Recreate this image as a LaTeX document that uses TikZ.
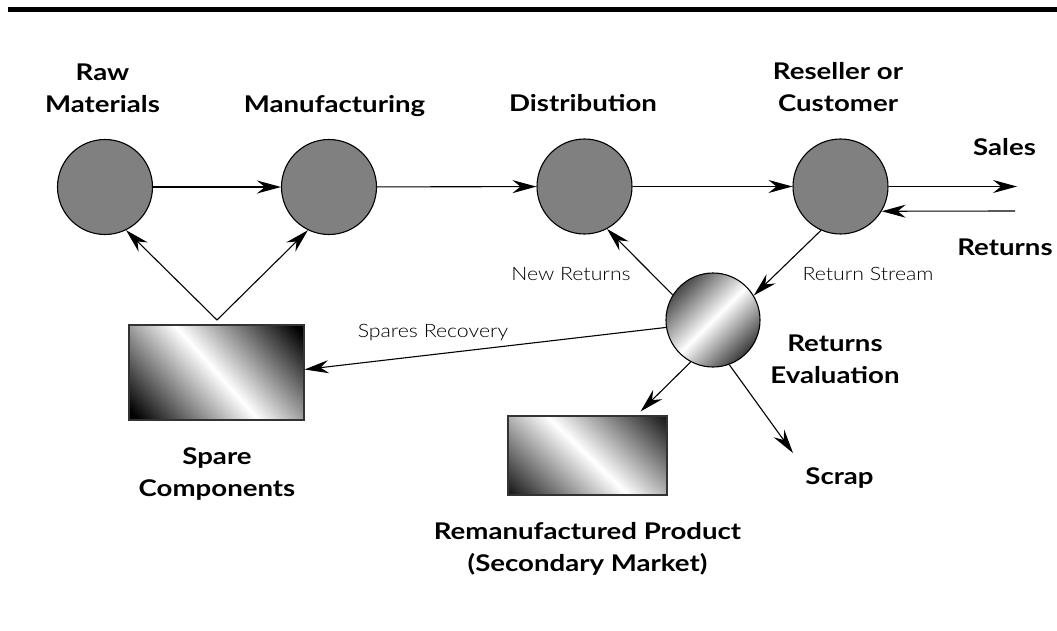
\documentclass[tikz,border=0pt]{standalone}
\usepackage{fontspec}
\setmainfont{Lato}[FakeStretch=1.2]
\IfFontExistsTF{Lato Light}{\newfontfamily\lightfont{Lato Light}[FakeStretch=1.15]}{\newfontfamily\lightfont{Lato}[FakeStretch=1.15]}
\usetikzlibrary{arrows.meta,calc}
\pgfdeclareverticalshading{metalboxbig}{400bp}{color(0bp)=(black); color(110bp)=(black); color(200bp)=(white); color(290bp)=(black); color(400bp)=(black)}
\pgfdeclareverticalshading{metalballbig}{400bp}{color(0bp)=(black!78); color(153bp)=(black!78); color(200bp)=(white); color(247bp)=(black!72); color(400bp)=(black!72)}
\begin{document}
\begin{tikzpicture}[x=1pt,y=-1pt,
  stage/.style={circle, draw=black, line width=1.1pt, fill=black!50, minimum size=95pt, inner sep=0pt},
  evalball/.style={circle, draw=black, line width=1.1pt, minimum size=94pt, inner sep=0pt,
    path picture={\node[rotate=45, inner sep=0pt] at (path picture bounding box.center) {\pgfuseshading{metalballbig}};}},
  store/.style={rectangle, draw=black!80, line width=1.2pt, inner sep=0pt,
    path picture={\node[rotate=#1, inner sep=0pt] at (path picture bounding box.center) {\pgfuseshading{metalboxbig}};}},
  lbl/.style={font=\bfseries\fontsize{23}{32}\selectfont, align=center, inner sep=0pt, anchor=base},
  thinlbl/.style={font=\lightfont\fontsize{18.5}{20}\selectfont, text=black, inner sep=0pt, anchor=base},
  flow/.style={-{Stealth[length=24pt,width=13pt,inset=8pt]}, line width=1.1pt},
]
\useasboundingbox (0,0) rectangle (1057,631);
\draw[line width=5pt] (8,9.3) -- (1057,9.3);

\node[stage] (raw) at (105,187) {};
\node[stage] (manu) at (329,187) {};
\node[stage] (dist) at (584.5,186.5) {};
\node[stage] (resel) at (840.5,186.5) {};
\node[evalball] (eval) at (713,320) {};
\node[store=-48.5, minimum width=175pt, minimum height=95pt] (spare) at (216.5,372.5) {};
\node[store=-44, minimum width=159pt, minimum height=79pt] (reman) at (587.5,455.5) {};

\coordinate (salesend) at (1017,186.5);
\coordinate (retin) at (1015,211);
\coordinate (apex) at (217,320);
\coordinate (scraptip) at (793,453);

\node[lbl] (rawl) at (102.5,112.6) {Raw\\Materials};
\node[lbl] (manul) at (334.5,113) {Manufacturing};
\node[lbl] (distl) at (583,112) {Distribution};
\node[lbl] (resl) at (838,111.7) {Reseller or\\Customer};
\node[lbl] (salesl) at (1004.5,156) {Sales};
\node[lbl] (retl) at (1005,255) {Returns};
\node[lbl] (evall) at (835,383) {Returns\\Evaluation};
\node[lbl] (sparel) at (217,496) {Spare\\Components};
\node[lbl] (scrapl) at (839.5,484) {Scrap};
\node[lbl] (remanl) at (587.5,571.7) {Remanufactured Product\\(Secondary Market)};

\node[thinlbl] (newret) at (571,280) {New Returns};
\node[thinlbl] (retstream) at (868,280) {Return Stream};
\node[thinlbl] (sparerec) at (433,337) {Spares Recovery};

\draw[flow] (raw) -- (manu);
\draw[flow] (manu) -- (dist);
\draw[flow] (dist) -- (resel);
\draw[flow] (resel.east) -- (salesend);
\draw[flow] (retin) -- (resel.-31);
\draw[flow] (resel.-114) -- (eval.31);
\draw[flow] (eval.148) -- (dist.-62);
\draw[flow] (eval.189) -- ($(spare.east)+(0,-3)$);
\draw[flow] (apex) -- (raw.-64);
\draw[flow] (apex) -- (manu.-116);
\draw[flow] (eval.-118) -- ($(reman.north east)+(-27,-4)$);
\draw[flow] (eval.-70) -- (scraptip);
\end{tikzpicture}
\end{document}
